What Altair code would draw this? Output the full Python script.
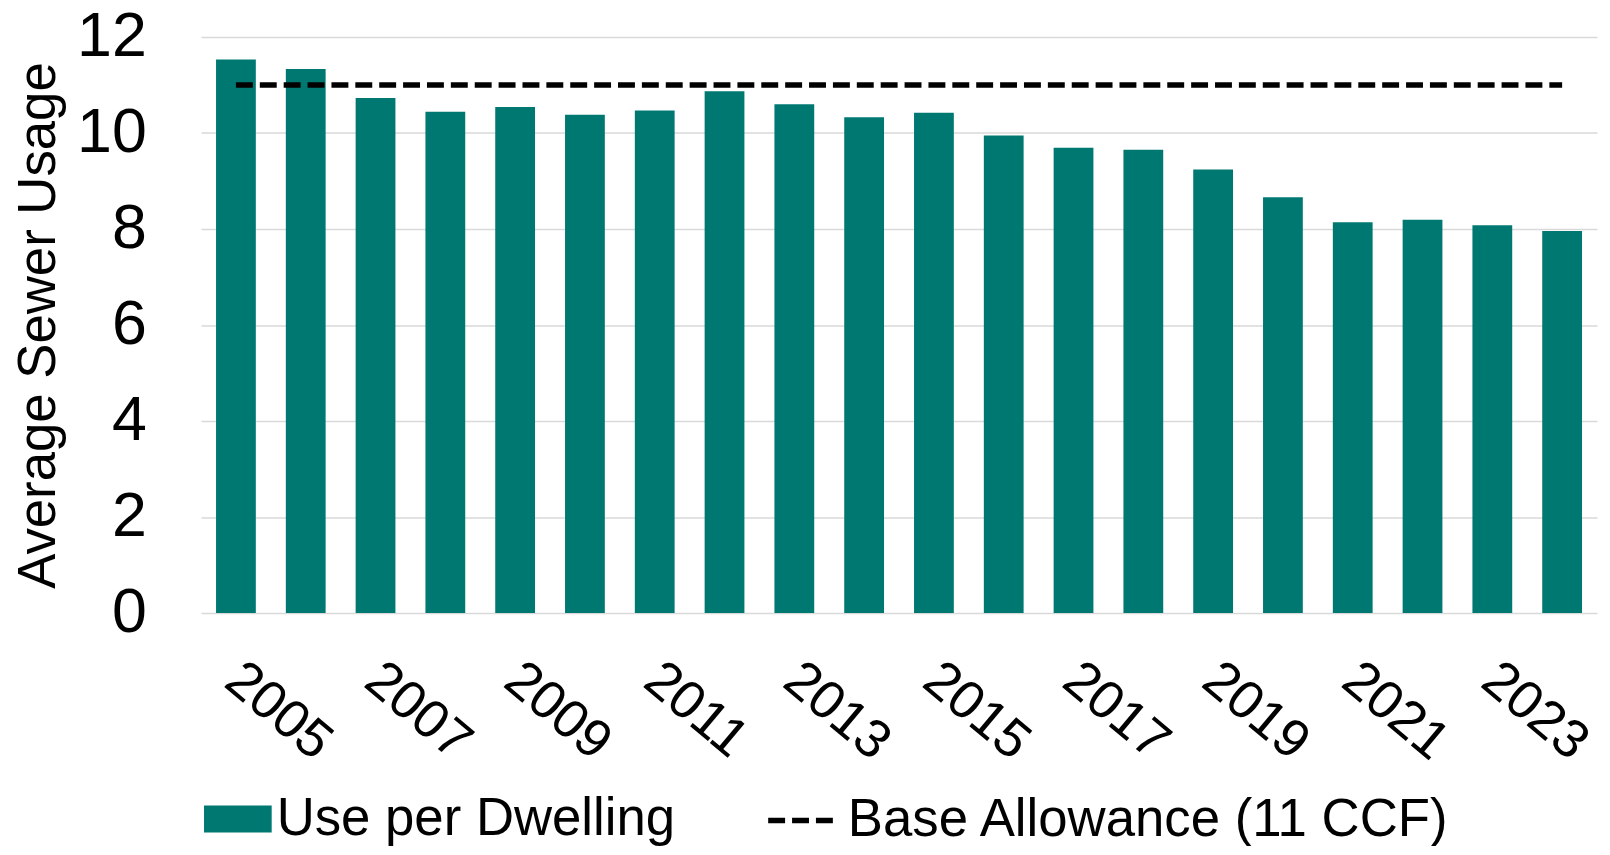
import altair as alt
import pandas as pd

years = [str(y) for y in range(2005, 2025)]
use_per_dwelling = [11.53, 11.33, 10.73, 10.44, 10.54, 10.38, 10.47, 10.87, 10.60, 10.33,
                    10.42, 9.95, 9.69, 9.65, 9.24, 8.66, 8.14, 8.19, 8.08, 7.96]
base_allowance = [11] * len(years)
tick_years = [str(y) for y in range(2005, 2025, 2)]
bar_series = "Use per Dwelling"
line_series = "Base Allowance (11 CCF)"

FONT = "Liberation Sans"
TEAL = "#007872"

bars_df = pd.DataFrame({"year": years, "value": use_per_dwelling, "series": bar_series})
line_df = pd.DataFrame({"year": years, "value": base_allowance, "series": line_series})

x_enc = alt.X(
    "year:O",
    title=None,
    scale=alt.Scale(paddingInner=0.43, paddingOuter=0.215),
    axis=alt.Axis(
        values=tick_years,
        labelAngle=40,
        labelAlign="left",
        labelBaseline="top",
        labelFontSize=54,
        labelFont=FONT,
        labelColor="black",
        labelPadding=39,
        labelOffset=14,
        ticks=False,
        domain=False,
        grid=False,
        labelOverlap=False,
    ),
)

y_enc = alt.Y(
    "value:Q",
    scale=alt.Scale(domain=[0, 12], nice=False),
    axis=alt.Axis(
        values=[0, 2, 4, 6, 8, 10, 12],
        title="Average Sewer Usage",
        titleFont=FONT,
        titleFontSize=53,
        titleFontWeight="normal",
        titleColor="black",
        titleAngle=270,
        titleAlign="center",
        titleBaseline="alphabetic",
        titleX=-147,
        titleY=289.5,
        labelFont=FONT,
        labelFontSize=63,
        labelColor="black",
        labelPadding=55,
        ticks=False,
        domain=False,
        grid=True,
        gridColor="#d9d9d9",
        gridWidth=1.5,
    ),
)

bars = alt.Chart(bars_df).mark_bar(strokeWidth=0).encode(
    x=x_enc,
    y=y_enc,
    fill=alt.Fill(
        "series:N",
        scale=alt.Scale(domain=[bar_series], range=[TEAL]),
        legend=alt.Legend(
            title=None,
            orient="none",
            legendX=3,
            legendY=752,
            symbolType="M-1,-0.4H1V0.4H-1Z",
            symbolSize=4624,
            symbolStrokeWidth=0,
            labelFont=FONT,
            labelFontSize=53,
            labelColor="black",
            labelOffset=5,
            labelLimit=1000,
        ),
    ),
)

line = alt.Chart(line_df).mark_line(color="black", strokeWidth=5.5).encode(
    x=alt.X("year:O"),
    y=alt.Y("value:Q"),
    strokeDash=alt.StrokeDash(
        "series:N",
        scale=alt.Scale(domain=[line_series], range=[[17, 7]]),
        legend=alt.Legend(
            title=None,
            orient="none",
            legendX=567,
            legendY=752,
            symbolType="stroke",
            symbolSize=4225,
            symbolStrokeWidth=5.5,
            symbolStrokeColor="black",
            labelFont=FONT,
            labelFontSize=53,
            labelColor="black",
            labelOffset=12,
            labelLimit=1000,
        ),
    ),
)

chart = (
    alt.layer(bars, line)
    .properties(
        width=1403,
        height=579,
        autosize=alt.AutoSizeParams(type="none"),
        padding={"left": 194, "top": 27, "right": 5, "bottom": 232},
        background="white",
    )
    .configure_view(stroke=None)
)

chart.save("out.html", embed_options={"renderer": "svg", "actions": False})
